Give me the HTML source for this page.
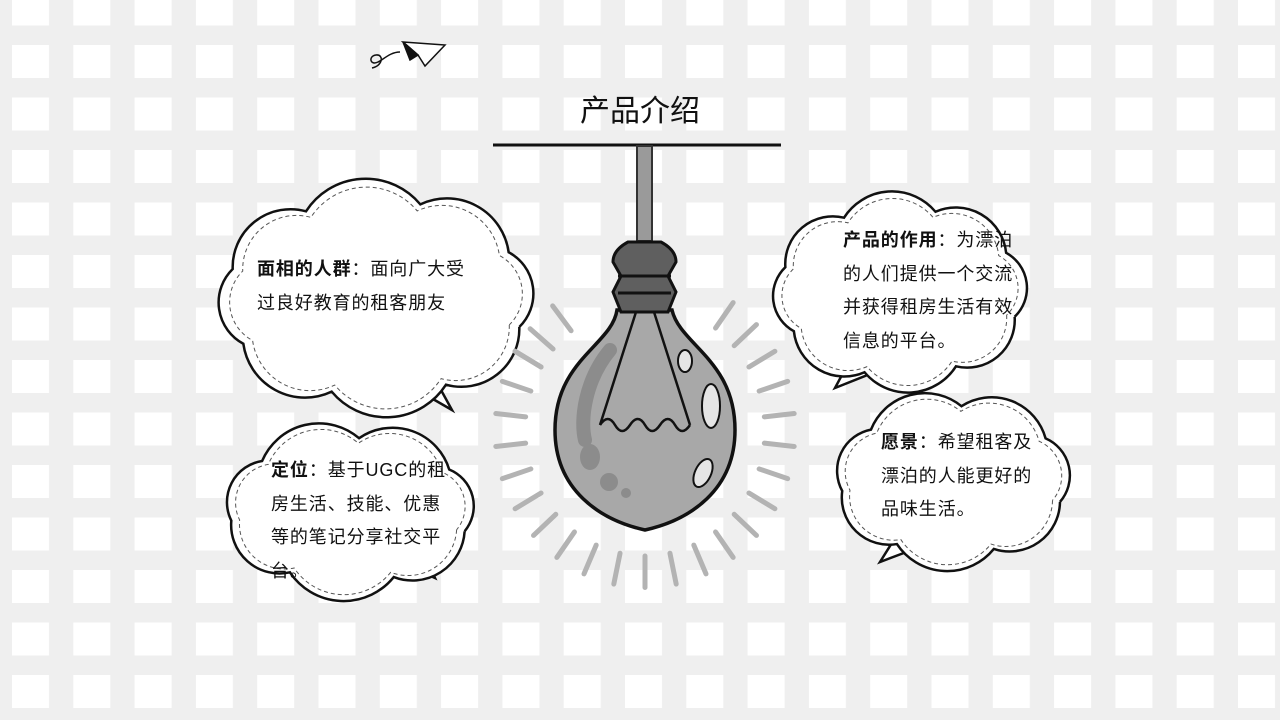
<!DOCTYPE html>
<html><head><meta charset="utf-8">
<style>
html,body{margin:0;padding:0;width:1280px;height:720px;overflow:hidden;background:#efefef}
svg{position:absolute;left:0;top:0}
.t{position:absolute;font-family:"Liberation Sans","Noto Sans CJK SC",sans-serif;font-size:18px;letter-spacing:0.9px;line-height:33.5px;color:#111;white-space:nowrap}
.t b{font-weight:bold}
#title{position:absolute;left:540px;top:86px;width:200px;text-align:center;font-family:"Liberation Sans","Noto Sans CJK SC",sans-serif;font-size:30px;color:#111}
</style></head><body>
<svg width="1280" height="720">
<defs><pattern id="grid" x="12" y="-7.5" width="61.3" height="52.5" patternUnits="userSpaceOnUse"><rect width="37" height="33" fill="#fff"/></pattern></defs>
<rect width="1280" height="720" fill="#efefef"/>
<rect width="1280" height="720" fill="url(#grid)"/>
<g id="clouds"></g>
<g stroke="#111" stroke-width="1.5" fill="none">
<path d="M403,42 L445,45 L425,66 L418,55 Z" fill="#fff"/><path d="M403,42 L418,55 L410,60 Z" fill="#111"/>
<path d="M400,52 C390,52 383,60 378,62 C370,66 368,56 376,55 C384,54 383,66 372,68"/>
</g>
<line x1="493" y1="145" x2="781" y2="145" stroke="#111" stroke-width="3"/>
<g>
<g id="rays" stroke="#b3b3b3" stroke-width="5" stroke-linecap="round"></g>
<rect x="637" y="146" width="15" height="95" fill="#9a9a9a" stroke="#333" stroke-width="2"/>
<path d="M617,310 C612,345 555,360 555,430 C555,490 600,520 645,530 C690,520 735,490 735,430 C735,360 680,345 672,310 Z" fill="#a8a8a8" stroke="#111" stroke-width="3.5"/>
<path d="M610,350 C585,380 580,420 585,440" stroke="#8c8c8c" stroke-width="14" fill="none" stroke-linecap="round"/>
<ellipse cx="590" cy="457" rx="10" ry="13" fill="#8c8c8c"/><circle cx="609" cy="482" r="9" fill="#8c8c8c"/><circle cx="626" cy="493" r="5" fill="#8c8c8c"/>
<path d="M636,312 L600,425 M654,312 L690,425 M600,425 q8,-12 15,0 t15,0 t15,0 t15,0 t15,0 t15,0" stroke="#111" stroke-width="2.5" fill="none"/>
<ellipse cx="685" cy="361" rx="7" ry="11" fill="#e5e5e5" stroke="#111" stroke-width="2"/>
<ellipse cx="711" cy="406" rx="9" ry="22" fill="#e5e5e5" stroke="#111" stroke-width="2"/>
<ellipse cx="703" cy="473" rx="8" ry="15" fill="#e5e5e5" stroke="#111" stroke-width="2" transform="rotate(25 703 473)"/>
<path d="M628,242 L661,242 Q676,250 676,262 L668,276 L676,292 L668,312 L621,312 L613,292 L621,276 L613,262 Q613,250 628,242 Z" fill="#5f5f5f" stroke="#111" stroke-width="3"/>
<path d="M618,276 L671,276 M618,293 L671,293" stroke="#111" stroke-width="3"/>
</g>
</svg>
<div id="title">产品介绍</div>
<div class="t" style="left:257px;top:253px"><b>面相的人群</b>：面向广大受<br>过良好教育的租客朋友</div>
<div class="t" style="left:843px;top:224px"><b>产品的作用</b>：为漂泊<br>的人们提供一个交流<br>并获得租房生活有效<br>信息的平台。</div>
<div class="t" style="left:271px;top:454px"><b>定位</b>：基于UGC的租<br>房生活、技能、优惠<br>等的笔记分享社交平<br>台。</div>
<div class="t" style="left:881px;top:426px"><b>愿景</b>：希望租客及<br>漂泊的人能更好的<br>品味生活。</div>
<script>
const NS='http://www.w3.org/2000/svg';
function cloud(cx,cy,rx,ry,n,tail){
  function p(s){let d='';const pts=[];for(let i=0;i<n;i++){const a=i/n*Math.PI*2+0.3;pts.push([cx+Math.cos(a)*rx*s,cy+Math.sin(a)*ry*s]);}
    d='M'+pts[0].join(',');for(let i=1;i<=n;i++){const a=pts[(i-1)%n],b=pts[i%n];const r=Math.hypot(b[0]-a[0],b[1]-a[1])*0.62;d+=` A${r},${r} 0 0 1 ${b[0]},${b[1]}`;}return d;}
  const g=document.createElementNS(NS,'g');
  const t=document.createElementNS(NS,'path');t.setAttribute('d',tail);t.setAttribute('fill','#fff');t.setAttribute('stroke','#111');t.setAttribute('stroke-width','2.5');g.appendChild(t);
  const o=document.createElementNS(NS,'path');o.setAttribute('d',p(1));o.setAttribute('fill','#fff');o.setAttribute('stroke','#111');o.setAttribute('stroke-width','2.5');g.appendChild(o);
  const i=document.createElementNS(NS,'path');i.setAttribute('d',p(0.93));i.setAttribute('fill','none');i.setAttribute('stroke','#555');i.setAttribute('stroke-width','1');i.setAttribute('stroke-dasharray','4 3');g.appendChild(i);
  document.getElementById('clouds').appendChild(g);return g;}
let c;
c=cloud(376,298,150,98,8,'M400,380 L452,410 L430,370 Z');


c=cloud(900,292,120,84,8,'M850,360 L835,388 L880,370 Z');


c=cloud(350,510,120,72,7,'M395,560 L435,578 L420,545 Z');


c=cloud(953,480,112,74,7,'M900,530 L880,562 L925,545 Z');


const rays=document.getElementById('rays');
const angs=[-150,-140,-128,-54,-42,-30,-18,-6,6,18,30,42,54,66,78,90,102,114,126,138,150,162,174,186,198,210];
for(const a of angs){const r=a*Math.PI/180;const cx=645,cy=430;const l=document.createElementNS(NS,'line');
 const r1=120,r2=150;l.setAttribute('x1',cx+Math.cos(r)*r1);l.setAttribute('y1',cy+Math.sin(r)*r1*1.05);l.setAttribute('x2',cx+Math.cos(r)*r2);l.setAttribute('y2',cy+Math.sin(r)*r2*1.05);
 
 
 rays.appendChild(l);}
</script>
</body></html>
